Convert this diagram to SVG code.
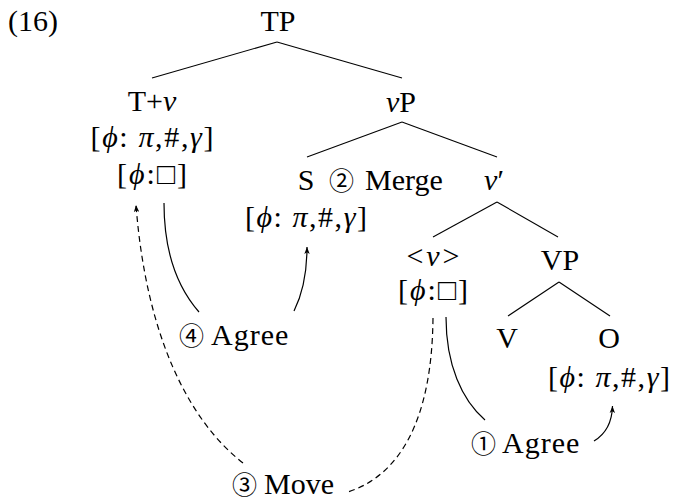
<svg xmlns="http://www.w3.org/2000/svg" width="674" height="501" viewBox="0 0 674 501">
<defs>
<style>
text{font-size:30px;fill:#000}
.m{text-anchor:middle}
.i{font-style:italic}
.c{font-family:"Noto Sans CJK JP","DejaVu Sans",sans-serif;font-size:25px}
.lab{letter-spacing:1px}
.edge{stroke:#000;stroke-width:1.1;fill:none}
.arc{stroke:#000;stroke-width:1.2;fill:none}
.dash{stroke-dasharray:6 4}
.arr{marker-end:url(#ah)}
</style>
<marker id="ah" viewBox="0 0 7 6" refX="7" refY="3" markerWidth="7" markerHeight="6" markerUnits="userSpaceOnUse" orient="auto">
<path d="M0,0.3 L7,3 L0,5.7 L1.8,3 z" fill="#000"/>
</marker>
</defs>
<rect width="674" height="501" fill="#fff"/>

<g id="connectors">
<line class="edge" x1="277" y1="42" x2="152" y2="78"/>
<line class="edge" x1="277" y1="42" x2="402" y2="78"/>
<line class="edge" x1="402" y1="122" x2="307" y2="157"/>
<line class="edge" x1="402" y1="122" x2="497" y2="157"/>
<line class="edge" x1="497" y1="202" x2="433" y2="237"/>
<line class="edge" x1="497" y1="202" x2="558" y2="237"/>
<line class="edge" x1="559" y1="282" x2="508" y2="316"/>
<line class="edge" x1="559" y1="282" x2="610" y2="316"/>
<path class="arc" d="M446,317 C446,365 462,400 485,420"/>
<path class="arc arr" d="M594,441 C604,435 612,425 612.5,406"/>
<path class="arc" d="M164,203 C164,252 178,288 199,312"/>
<path class="arc arr" d="M294,311 C302,295 307,275 307,247"/>
<path class="arc dash" d="M433,318 C432,420 400,475 348,492"/>
<path class="arc dash arr" d="M243,463 C188,420 146,335 136,205"/>
</g>

<g font-family="'Liberation Serif', 'Times New Roman', 'DejaVu Serif', serif">
<g id="example-number"><text x="8" y="31">(16)</text></g>

<g id="TP"><text class="m" x="278" y="31">TP</text></g>

<g id="T-v">
<text class="m" x="152" y="111">T+<tspan class="i">v</tspan></text>
<text class="m" x="152" y="147" textLength="123">[<tspan class="i">ϕ</tspan>: <tspan class="i">π</tspan>,#,<tspan class="i">γ</tspan>]</text>
<text class="m" x="152" y="184" textLength="70">[<tspan class="i">ϕ</tspan>:□]</text>
</g>

<g id="vP"><text class="m" x="401" y="112"><tspan class="i">v</tspan>P</text></g>

<g id="S">
<text class="m" x="306" y="190">S</text>
<text class="m" x="306" y="227" textLength="122">[<tspan class="i">ϕ</tspan>: <tspan class="i">π</tspan>,#,<tspan class="i">γ</tspan>]</text>
</g>

<g id="label-merge"><text y="190"><tspan class="c" x="329">②</tspan><tspan x="365">Merge</tspan></text></g>

<g id="v-bar"><text class="m" x="494" y="190"><tspan class="i">v</tspan>′</text></g>

<g id="v-trace">
<text class="m" x="433" y="266" textLength="53">&lt;<tspan class="i">v</tspan>&gt;</text>
<text class="m" x="433" y="300" textLength="70">[<tspan class="i">ϕ</tspan>:□]</text>
</g>

<g id="VP"><text class="m" x="560" y="270">VP</text></g>

<g id="V"><text class="m" x="507" y="348">V</text></g>

<g id="O">
<text class="m" x="609" y="348">O</text>
<text class="m" x="609" y="387" textLength="122">[<tspan class="i">ϕ</tspan>: <tspan class="i">π</tspan>,#,<tspan class="i">γ</tspan>]</text>
</g>

<g id="label-agree1"><text class="lab" y="453"><tspan class="c" x="471">①</tspan><tspan x="502">Agree</tspan></text></g>
<g id="label-agree4"><text class="lab" y="345"><tspan class="c" x="179">④</tspan><tspan x="211">Agree</tspan></text></g>
<g id="label-move"><text y="494"><tspan class="c" x="232">③</tspan><tspan x="264">Move</tspan></text></g>
</g>
</svg>
